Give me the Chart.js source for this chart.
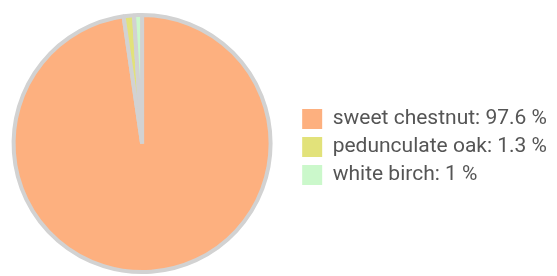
<!DOCTYPE html>
<html>
<head>
<meta charset="utf-8">
<script src="https://cdn.jsdelivr.net/npm/chart.js@4/dist/chart.umd.min.js"></script>
<style>
html,body{margin:0;padding:0;background:#fff;}
#wrap{width:557px;height:276px;position:relative;}
</style>
</head>
<body>
<div id="wrap"><canvas id="c" width="557" height="276"></canvas></div>
<script>
const categories = ["sweet chestnut", "pedunculate oak", "white birch"];
const shares = [97.6, 1.3, 1];
const sliceColors = ["#fdb07f", "#e2e27a", "#cbf8cb"];

const shiftPie = {
  id: 'shiftPie',
  afterLayout(chart) {
    const a = chart.chartArea;
    a.left = -11;
    a.width = a.right - a.left;
  }
};

const ctx = document.getElementById('c').getContext('2d');
new Chart(ctx, {
  type: 'pie',
  data: {
    labels: categories,
    datasets: [{
      data: shares,
      backgroundColor: sliceColors,
      borderColor: '#d2d2d2',
      borderWidth: 4
    }]
  },
  plugins: [shiftPie],
  options: {
    responsive: false,
    animation: false,
    layout: { padding: { top: 13, bottom: 2, left: 0, right: 0 } },
    plugins: {
      tooltip: { enabled: false },
      legend: {
        position: 'right',
        title: { display: true, text: ' ', font: { size: 3, lineHeight: 1 }, padding: 2 },
        labels: {
          boxWidth: 20,
          boxHeight: 20,
          padding: 7,
          color: '#555555',
          font: { family: 'Roboto', size: 21 },
          generateLabels(chart) {
            return categories.map((c, i) => ({
              text: c + ': ' + shares[i] + ' %',
              fillStyle: sliceColors[i],
              strokeStyle: sliceColors[i],
              lineWidth: 0,
              hidden: false,
              index: i,
              fontColor: '#555555'
            }));
          }
        }
      }
    }
  }
});
</script>
</body>
</html>
